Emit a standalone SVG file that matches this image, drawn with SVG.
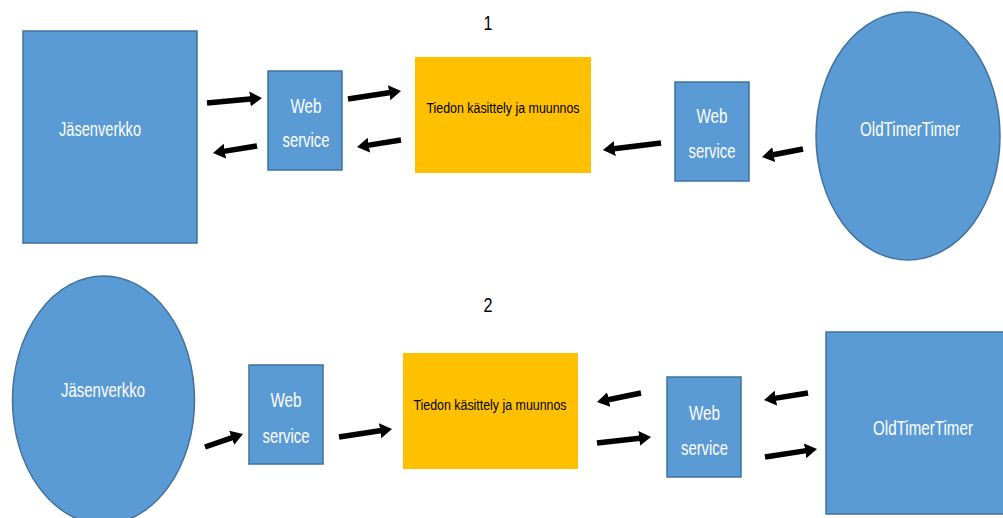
<svg xmlns="http://www.w3.org/2000/svg" width="1003" height="518" viewBox="0 0 1003 518">
<style>
.blue{fill:#5B9BD5;stroke:#41719C;stroke-width:1.5}
.yel{fill:#FFC000}
.wt{fill:#FFFFFF;font-family:"Liberation Sans",Arial,sans-serif;text-anchor:middle}
.bt{fill:#000000;font-family:"Liberation Sans",Arial,sans-serif;text-anchor:middle}
.arr{stroke:#000;stroke-width:5.5;fill:none;marker-end:url(#ah)}
</style>
<defs>
<marker id="ah" markerUnits="userSpaceOnUse" markerWidth="14" markerHeight="16" viewBox="0 -8 14 16" refX="3" refY="0" orient="auto">
<path d="M0,-7.5 L12,0 L0,7.5 Z" fill="#000"/>
</marker>
</defs>
<rect width="1003" height="518" fill="#FFFFFF"/>
<text class="bt" x="488" y="30" font-size="20" textLength="9" lengthAdjust="spacingAndGlyphs">1</text>
<text class="bt" x="488" y="312" font-size="20" textLength="9" lengthAdjust="spacingAndGlyphs">2</text>
<g id="jasenverkko1">
<rect class="blue" x="23" y="31" width="174" height="212"/>
<text class="wt" x="100" y="136" font-size="19.5" textLength="82" lengthAdjust="spacingAndGlyphs">Jäsenverkko</text>
</g>
<g id="webservice1">
<rect class="blue" x="268" y="71" width="74" height="99"/>
<text class="wt" x="306" y="113" font-size="19.5" textLength="31" lengthAdjust="spacingAndGlyphs">Web</text>
<text class="wt" x="306" y="147" font-size="19.5" textLength="47" lengthAdjust="spacingAndGlyphs">service</text>
</g>
<g id="tiedon1">
<rect class="yel" x="415" y="57" width="176" height="116"/>
<text class="bt" x="503" y="113" font-size="15.5" textLength="153" lengthAdjust="spacingAndGlyphs">Tiedon käsittely ja muunnos</text>
</g>
<g id="webservice2">
<rect class="blue" x="675" y="82" width="74" height="99"/>
<text class="wt" x="712" y="123" font-size="19.5" textLength="31" lengthAdjust="spacingAndGlyphs">Web</text>
<text class="wt" x="712" y="158" font-size="19.5" textLength="47" lengthAdjust="spacingAndGlyphs">service</text>
</g>
<g id="oldtimer1">
<ellipse class="blue" cx="908" cy="136" rx="92" ry="124"/>
<text class="wt" x="910" y="136" font-size="19.5" textLength="100" lengthAdjust="spacingAndGlyphs">OldTimerTimer</text>
</g>
<g id="jasenverkko2">
<ellipse class="blue" cx="103.5" cy="400" rx="91" ry="124"/>
<text class="wt" x="103" y="397" font-size="19.5" textLength="84" lengthAdjust="spacingAndGlyphs">Jäsenverkko</text>
</g>
<g id="webservice3">
<rect class="blue" x="249" y="365" width="74" height="99"/>
<text class="wt" x="286" y="407" font-size="19.5" textLength="31" lengthAdjust="spacingAndGlyphs">Web</text>
<text class="wt" x="286" y="443" font-size="19.5" textLength="47" lengthAdjust="spacingAndGlyphs">service</text>
</g>
<g id="tiedon2">
<rect class="yel" x="403" y="353" width="175" height="116"/>
<text class="bt" x="490" y="410" font-size="15.5" textLength="153" lengthAdjust="spacingAndGlyphs">Tiedon käsittely ja muunnos</text>
</g>
<g id="webservice4">
<rect class="blue" x="667" y="377" width="74" height="100"/>
<text class="wt" x="704.5" y="420" font-size="19.5" textLength="31" lengthAdjust="spacingAndGlyphs">Web</text>
<text class="wt" x="704.5" y="455" font-size="19.5" textLength="47" lengthAdjust="spacingAndGlyphs">service</text>
</g>
<g id="oldtimer2">
<rect class="blue" x="826" y="332" width="180" height="182"/>
<text class="wt" x="923" y="435" font-size="19.5" textLength="100" lengthAdjust="spacingAndGlyphs">OldTimerTimer</text>
</g>
<g id="connectors">
<line class="arr" x1="207" y1="103" x2="253" y2="98.8"/>
<line class="arr" x1="257" y1="146" x2="221.9" y2="151.6"/>
<line class="arr" x1="348" y1="99" x2="392.1" y2="92.3"/>
<line class="arr" x1="401" y1="140" x2="365.9" y2="145.6"/>
<line class="arr" x1="661" y1="143" x2="611.9" y2="148.9"/>
<line class="arr" x1="803" y1="149" x2="770.8" y2="155.3"/>
<line class="arr" x1="205" y1="447" x2="234.5" y2="436.9"/>
<line class="arr" x1="339" y1="437" x2="383.1" y2="430.3"/>
<line class="arr" x1="641" y1="393" x2="605.8" y2="400.2"/>
<line class="arr" x1="597" y1="443" x2="642.1" y2="438"/>
<line class="arr" x1="808" y1="393" x2="772.9" y2="398.6"/>
<line class="arr" x1="765" y1="457" x2="808.1" y2="450.4"/>
</g>
</svg>
